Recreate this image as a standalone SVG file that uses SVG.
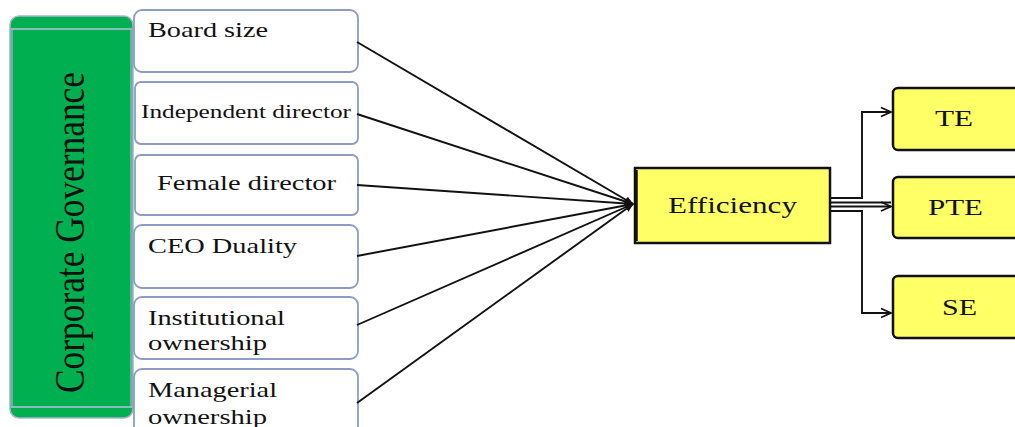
<svg xmlns="http://www.w3.org/2000/svg" width="1015" height="427" viewBox="0 0 1015 427">
<defs>
<style>
.t{font-family:"Liberation Serif","Times New Roman",serif;fill:#111;}
.lb{fill:#fff;stroke:#8f9bc4;stroke-width:1.8;}
.yb{fill:#ffff66;stroke:#111;stroke-width:2.5;}
.cn{fill:none;stroke:#111;stroke-width:1.9;}
</style>
<marker id="ah" viewBox="0 0 10 10" refX="9" refY="5" markerWidth="9" markerHeight="9" markerUnits="userSpaceOnUse" orient="auto">
<path d="M0,1 L10,5 L0,9 z" fill="#111"/>
</marker>
<marker id="oa" viewBox="0 0 12 12" refX="11" refY="6" markerWidth="12" markerHeight="12" markerUnits="userSpaceOnUse" orient="auto">
<path d="M1,1.5 L11,6 L1,10.5" fill="none" stroke="#111" stroke-width="1.8"/>
</marker>
</defs>
<rect width="1015" height="427" fill="#fff"/>

<g id="corporate-governance">
<rect x="10" y="16" width="123" height="402" rx="9" fill="#00b050" stroke="#a8b4d0" stroke-width="1.5"/>
<line x1="11" y1="29" x2="132" y2="29" stroke="#b8c2dc" stroke-width="1.5"/>
<line x1="11" y1="407" x2="132" y2="407" stroke="#b8c2dc" stroke-width="1.5"/>
<line x1="12" y1="29" x2="12" y2="407" stroke="#a8b4d0" stroke-width="1.2"/>
<line x1="131" y1="29" x2="131" y2="407" stroke="#a8b4d0" stroke-width="1.2"/>
<text class="t" transform="translate(84,393) rotate(-90)" font-size="43" textLength="321" lengthAdjust="spacingAndGlyphs">Corporate Governance</text>
</g>

<g id="board-size">
<rect class="lb" x="134" y="10" width="224" height="62" rx="8"/>
<text class="t" x="148" y="37" font-size="22" textLength="120" lengthAdjust="spacingAndGlyphs">Board size</text>
</g>
<g id="independent-director">
<rect class="lb" x="135" y="82" width="223" height="62" rx="6" stroke="#2a2f45" stroke-width="2.2"/>
<text class="t" x="141" y="118" font-size="19" textLength="210" lengthAdjust="spacingAndGlyphs">Independent director</text>
</g>
<g id="female-director">
<rect class="lb" x="135" y="155" width="223" height="60" rx="6" stroke="#5a6795" stroke-width="2.2"/>
<text class="t" x="157" y="190" font-size="21" textLength="179" lengthAdjust="spacingAndGlyphs">Female director</text>
</g>
<g id="ceo-duality">
<rect class="lb" x="134" y="225" width="224" height="63" rx="8"/>
<text class="t" x="148" y="253" font-size="22" textLength="149" lengthAdjust="spacingAndGlyphs">CEO Duality</text>
</g>
<g id="institutional-ownership">
<rect class="lb" x="134" y="297" width="224" height="62" rx="8"/>
<text class="t" x="148" y="325" font-size="22" textLength="137" lengthAdjust="spacingAndGlyphs">Institutional</text>
<text class="t" x="148" y="350" font-size="22" textLength="119" lengthAdjust="spacingAndGlyphs">ownership</text>
</g>
<g id="managerial-ownership">
<rect class="lb" x="134" y="369" width="224" height="70" rx="8"/>
<text class="t" x="148" y="397" font-size="22" textLength="129" lengthAdjust="spacingAndGlyphs">Managerial</text>
<text class="t" x="148" y="424" font-size="22" textLength="119" lengthAdjust="spacingAndGlyphs">ownership</text>
</g>

<g id="efficiency">
<rect class="yb" x="635" y="168" width="195" height="75" stroke-width="2"/>
<line x1="636" y1="170" x2="636" y2="241" stroke="#111" stroke-width="3.5"/>
<text class="t" x="668" y="213" font-size="24" textLength="129" lengthAdjust="spacingAndGlyphs">Efficiency</text>
</g>
<g id="te">
<rect class="yb" x="893" y="88" width="130" height="62" rx="5"/>
<text class="t" x="935" y="126" font-size="24" textLength="38" lengthAdjust="spacingAndGlyphs">TE</text>
</g>
<g id="pte">
<rect class="yb" x="893" y="177" width="130" height="61" rx="5"/>
<text class="t" x="928" y="215" font-size="24" textLength="55" lengthAdjust="spacingAndGlyphs">PTE</text>
</g>
<g id="se">
<rect class="yb" x="893" y="276" width="130" height="62" rx="5"/>
<text class="t" x="942" y="315" font-size="24" textLength="35" lengthAdjust="spacingAndGlyphs">SE</text>
</g>

<g id="connectors">
<line class="cn" x1="357" y1="42" x2="633" y2="204" marker-end="url(#ah)"/>
<line class="cn" x1="357" y1="114" x2="633" y2="204" marker-end="url(#ah)"/>
<line class="cn" x1="357" y1="185" x2="633" y2="204" marker-end="url(#ah)"/>
<line class="cn" x1="357" y1="256" x2="633" y2="204" marker-end="url(#ah)"/>
<line class="cn" x1="357" y1="325" x2="633" y2="204" marker-end="url(#ah)"/>
<line class="cn" x1="357" y1="403" x2="633" y2="204" marker-end="url(#ah)"/>
<path class="cn" d="M830,198 H862 V112 H891" marker-end="url(#oa)"/>
<path class="cn" d="M830,202.5 H891" stroke-width="1.4"/>
<path class="cn" d="M830,206.5 H891" stroke-width="1.4" marker-end="url(#oa)"/>
<path class="cn" d="M830,211 H862 V313 H891" marker-end="url(#oa)"/>
</g>
</svg>
